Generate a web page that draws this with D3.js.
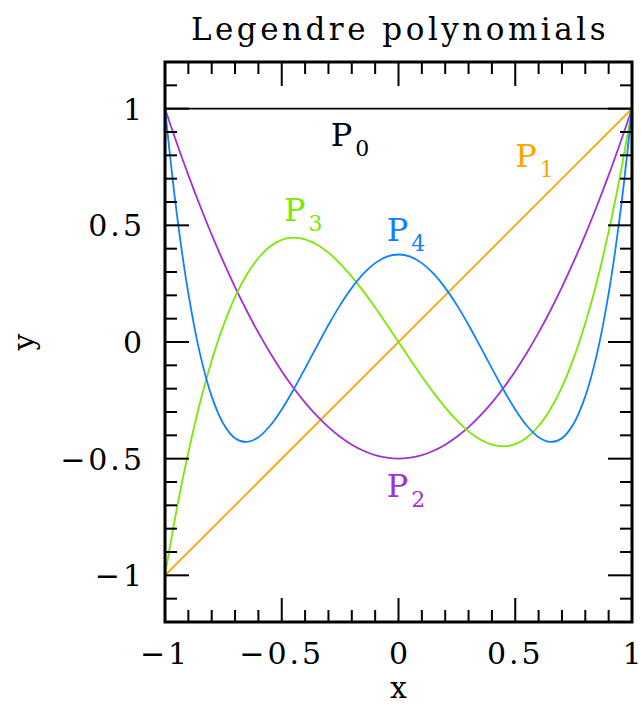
<!DOCTYPE html>
<html>
<head>
<meta charset="utf-8">
<script src="https://cdnjs.cloudflare.com/ajax/libs/d3/7.8.5/d3.min.js"></script>
<style>
  body { margin: 0; background: #fff; }
  svg text { font-family: "DejaVu Serif", serif; fill: #000; }
</style>
</head>
<body>
<script>
// x samples and polynomial values
var xs = [-1, -0.95, -0.9, -0.85, -0.8, -0.75, -0.7, -0.65, -0.6, -0.55, -0.5,
          -0.45, -0.4, -0.35, -0.3, -0.25, -0.2, -0.15, -0.1, -0.05, 0,
          0.05, 0.1, 0.15, 0.2, 0.25, 0.3, 0.35, 0.4, 0.45, 0.5,
          0.55, 0.6, 0.65, 0.7, 0.75, 0.8, 0.85, 0.9, 0.95, 1];
var p0 = [1, 1];
var p1 = [-1, 1];
var p2 = [1, 0.854, 0.715, 0.584, 0.46, 0.344, 0.235, 0.134, 0.04, -0.046, -0.125,
          -0.196, -0.26, -0.316, -0.365, -0.406, -0.44, -0.466, -0.485, -0.496, -0.5,
          -0.496, -0.485, -0.466, -0.44, -0.406, -0.365, -0.316, -0.26, -0.196, -0.125,
          -0.046, 0.04, 0.134, 0.235, 0.344, 0.46, 0.584, 0.715, 0.854, 1];
var p3 = [-1, -0.718, -0.473, -0.26, -0.08, 0.07, 0.193, 0.288, 0.36, 0.409, 0.438,
          0.447, 0.44, 0.418, 0.383, 0.336, 0.28, 0.217, 0.148, 0.075, 0,
          -0.075, -0.148, -0.217, -0.28, -0.336, -0.383, -0.418, -0.44, -0.447, -0.438,
          -0.409, -0.36, -0.288, -0.193, -0.07, 0.08, 0.26, 0.473, 0.718, 1];
var p4 = [1, 0.554, 0.208, -0.051, -0.233, -0.35, -0.412, -0.428, -0.408, -0.359, -0.289,
          -0.205, -0.113, -0.019, 0.073, 0.158, 0.232, 0.293, 0.338, 0.366, 0.375,
          0.366, 0.338, 0.293, 0.232, 0.158, 0.073, -0.019, -0.113, -0.205, -0.289,
          -0.359, -0.408, -0.428, -0.412, -0.35, -0.233, -0.051, 0.208, 0.554, 1];

var colors = ['#000000', '#ffa500', '#a030d8', '#7ce800', '#1080ff'];
var tickValues = [-1, -0.5, 0, 0.5, 1];
var tickLabels = ['\u22121', '\u22120.5', '0', '0.5', '1'];
var minorTicks = d3.range(-12, 13).map(function(i){ return i / 10; });

// label anchors in data coordinates
var labels = [
    {name: 'P', sub: '0', x: -0.29, y: 0.84},
    {name: 'P', sub: '1', x: 0.5, y: 0.75},
    {name: 'P', sub: '2', x: -0.05, y: -0.665},
    {name: 'P', sub: '3', x: -0.49, y: 0.52},
    {name: 'P', sub: '4', x: -0.05, y: 0.435}
];

var width = 641, height = 706;
var plotLeft = 165, plotRight = 632, plotTop = 62, plotBottom = 622;

var svg = d3.select('body').append('svg')
    .attr('width', width)
    .attr('height', height);

var xScale = d3.scaleLinear().domain([-1, 1]).range([plotLeft, plotRight]);
var yScale = d3.scaleLinear().domain([-1.2, 1.2]).range([plotBottom, plotTop]);

svg.append('clipPath').attr('id', 'clip')
    .append('rect')
    .attr('x', plotLeft).attr('y', plotTop)
    .attr('width', plotRight - plotLeft).attr('height', plotBottom - plotTop);

var line = d3.line()
    .x(function(d){ return xScale(d[0]); })
    .y(function(d){ return yScale(d[1]); })
    .curve(d3.curveCatmullRom);

var series = [
    [[-1, p0[0]], [1, p0[1]]],
    [[-1, p1[0]], [1, p1[1]]],
    xs.map(function(x, i){ return [x, p2[i]]; }),
    xs.map(function(x, i){ return [x, p3[i]]; }),
    xs.map(function(x, i){ return [x, p4[i]]; })
];

svg.append('g').attr('clip-path', 'url(#clip)')
    .selectAll('path')
    .data(series)
    .enter()
    .append('path')
    .attr('d', line)
    .attr('fill', 'none')
    .attr('stroke', function(d, i){ return colors[i]; })
    .attr('stroke-width', 1.8);

// ticks on all four sides, pointing inward
function tickSize(v){
    return Math.abs(Math.round(v * 10) % 5) === 0 ? 24 : 12;
}

var g = svg.append('g').attr('class', 'ticks');

var xMinor = minorTicks.filter(function(v){ return v > -1 && v < 1; });
xMinor.forEach(function(v){
    var s = tickSize(v);
    g.append('line').attr('x1', xScale(v)).attr('x2', xScale(v))
        .attr('y1', plotBottom).attr('y2', plotBottom - s);
    g.append('line').attr('x1', xScale(v)).attr('x2', xScale(v))
        .attr('y1', plotTop).attr('y2', plotTop + s);
});
var yMinor = minorTicks.filter(function(v){ return v > -1.2 && v < 1.2; });
yMinor.forEach(function(v){
    var s = tickSize(v);
    g.append('line').attr('y1', yScale(v)).attr('y2', yScale(v))
        .attr('x1', plotLeft).attr('x2', plotLeft + s);
    g.append('line').attr('y1', yScale(v)).attr('y2', yScale(v))
        .attr('x1', plotRight).attr('x2', plotRight - s);
});
g.selectAll('line').attr('stroke', '#000').attr('stroke-width', 2);

svg.append('rect')
    .attr('x', plotLeft).attr('y', plotTop)
    .attr('width', plotRight - plotLeft).attr('height', plotBottom - plotTop)
    .attr('fill', 'none')
    .attr('stroke', '#000')
    .attr('stroke-width', 3);

// tick labels
svg.selectAll('.xlab')
    .data(tickValues)
    .enter()
    .append('text')
    .attr('class', 'xlab')
    .attr('x', function(d){ return xScale(d); })
    .attr('y', 664)
    .attr('text-anchor', 'middle')
    .style('font-size', '30px')
    .style('letter-spacing', function(d, i){ return tickLabels[i].length > 1 ? '3px' : '0px'; })
    .text(function(d, i){ return tickLabels[i]; });

svg.selectAll('.ylab')
    .data(tickValues)
    .enter()
    .append('text')
    .attr('class', 'ylab')
    .attr('x', 145)
    .attr('y', function(d){ return yScale(d) + 11; })
    .attr('text-anchor', 'end')
    .style('font-size', '30px')
    .style('letter-spacing', '3px')
    .text(function(d, i){ return tickLabels[i]; });

// axis titles
svg.append('text')
    .attr('x', xScale(0))
    .attr('y', 698)
    .attr('text-anchor', 'middle')
    .style('font-size', '30px')
    .text('x');

svg.append('text')
    .attr('transform', 'translate(34,' + yScale(0) + ') rotate(-90)')
    .attr('text-anchor', 'middle')
    .style('font-size', '30px')
    .text('y');

svg.append('text')
    .attr('x', 400)
    .attr('y', 40)
    .attr('text-anchor', 'middle')
    .style('font-size', '31px')
    .style('letter-spacing', '3.5px')
    .text('Legendre polynomials');

// curve labels
var lab = svg.selectAll('.plab')
    .data(labels)
    .enter()
    .append('text')
    .attr('class', 'plab')
    .attr('x', function(d){ return xScale(d.x); })
    .attr('y', function(d){ return yScale(d.y); })
    .style('font-size', '32px')
    .style('fill', function(d, i){ return colors[i]; });
lab.append('tspan').text(function(d){ return d.name; });
lab.append('tspan')
    .attr('dx', 3)
    .attr('dy', 10)
    .style('font-size', '22px')
    .text(function(d){ return d.sub; });
</script>
</body>
</html>
